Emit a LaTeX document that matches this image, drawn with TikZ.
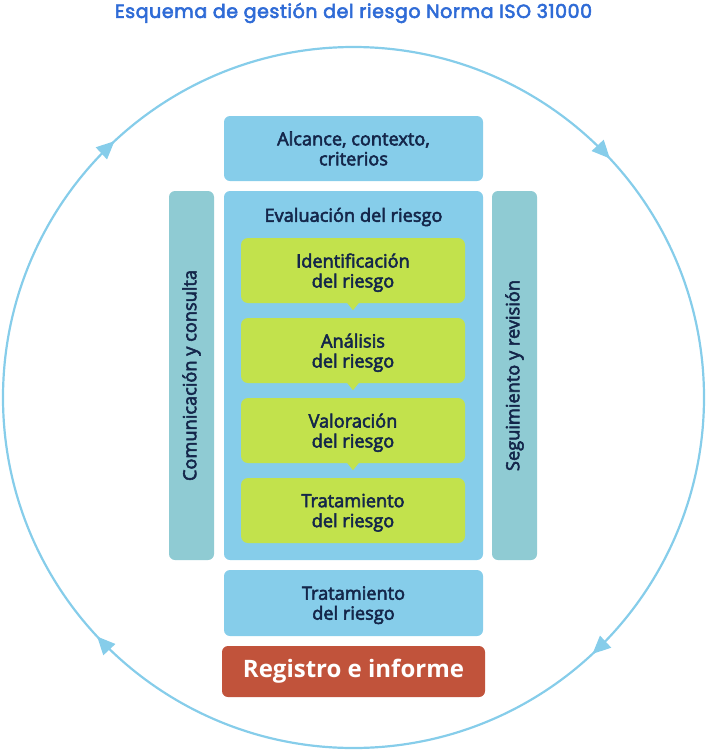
\documentclass[tikz,border=0pt]{standalone}
\usepackage{fontspec}
\setmainfont[FakeBold=3]{Open Sans}
\newfontfamily\boldsans{Open Sans}
\newfontfamily\titlefont[FakeBold=3,LetterSpace=3]{Poppins}
\usetikzlibrary{arrows.meta,decorations.markings}
\definecolor{skyb}{HTML}{86CDEA}
\definecolor{sidebar}{HTML}{8FCBD3}
\definecolor{lime}{HTML}{C2E24C}
\definecolor{brick}{HTML}{C1533B}
\definecolor{navy}{HTML}{14264A}
\definecolor{titleblue}{HTML}{2F6BD6}
\tikzset{
  boxfont/.style={font=\fontsize{18.2}{20}\selectfont},
  boxbase/.style={rounded corners=6pt, inner sep=0pt, align=center, text=navy, boxfont},
  bluebox/.style={boxbase, fill=skyb, minimum width=259pt},
  sidebox/.style={boxbase, fill=sidebar, minimum width=45pt, minimum height=369pt},
  greenbox/.style={boxbase, fill=lime, minimum width=224pt, minimum height=65pt, rounded corners=7pt, text depth=0pt},
  pointer/.style={fill=lime},
  plaintext/.style={text=navy, boxfont, inner sep=0pt},
  circ/.style={draw=skyb, line width=2.2pt}
}
\begin{document}
\begin{tikzpicture}[x=1pt,y=-1pt]
\useasboundingbox (0,0) rectangle (707,750);
\node[font=\titlefont\fontsize{19}{21}\selectfont, text=titleblue] (title) at (353.5,13) {Esquema de gestión del riesgo Norma ISO 31000};
\coordinate (cc) at (353.5,397.5);
\draw[circ, postaction={decorate}, decoration={markings,
  mark=at position 0.1194 with {\arrowreversed[skyb]{Triangle[length=18pt,width=16pt]}},
  mark=at position 0.3694 with {\arrowreversed[skyb]{Triangle[length=18pt,width=16pt]}},
  mark=at position 0.6194 with {\arrowreversed[skyb]{Triangle[length=18pt,width=16pt]}},
  mark=at position 0.8694 with {\arrowreversed[skyb]{Triangle[length=18pt,width=16pt]}}}]
  (cc) circle[radius=350.5pt];
\node[bluebox, minimum height=65pt] (alcance) at (353.5,148.5) {Alcance, contexto,\\criterios};
\node[sidebox] (comun) at (191.5,375.5) {};
\node[plaintext, rotate=90] (comunt) at (comun.center) {Comunicación y consulta};
\node[sidebox] (segui) at (514.5,375.5) {};
\node[plaintext, rotate=90] (seguit) at (segui.center) {Seguimiento y revisión};
\node[bluebox, minimum height=369pt] (eval) at (353.5,375.5) {};
\node[plaintext] (evalt) at (353.5,217) {Evaluación del riesgo};
\node[greenbox] (ident) at (353,270.5) {Identificación\\del riesgo};
\node[greenbox] (anal) at (353,350.5) {Análisis\\del riesgo};
\node[greenbox] (valor) at (353,430.5) {Valoración\\del riesgo};
\node[greenbox] (trat) at (353,510.5) {Tratamiento\\del riesgo};
\foreach \b in {ident,anal,valor}{
  \fill[pointer] ([xshift=-6pt,yshift=0.5pt]\b.south) -- ([xshift=6pt,yshift=0.5pt]\b.south) -- ([yshift=-7pt]\b.south) -- cycle;
}
\node[bluebox, minimum height=66pt, text depth=0pt] (trat2) at (353.5,603) {Tratamiento\\del riesgo};
\node[boxbase, fill=brick, minimum width=263pt, minimum height=51pt, text=white, font=\boldsans\bfseries\fontsize{24}{26}\selectfont] (reg) at (353.5,671.5) {Registro e informe};
\end{tikzpicture}
\end{document}
